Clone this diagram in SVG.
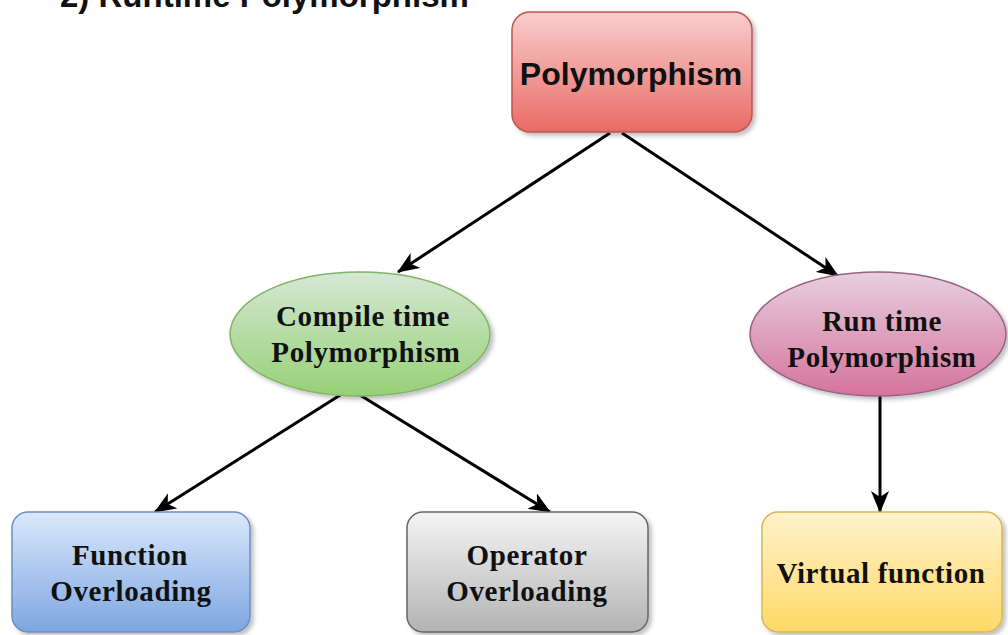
<svg xmlns="http://www.w3.org/2000/svg" width="1008" height="635" viewBox="0 0 1008 635">
<defs>
<linearGradient id="gRed" x1="0" y1="0" x2="0" y2="1"><stop offset="0" stop-color="#f8cecc"/><stop offset="1" stop-color="#ea6b66"/></linearGradient>
<linearGradient id="gGreen" x1="0" y1="0" x2="0" y2="1"><stop offset="0" stop-color="#d5e8d4"/><stop offset="1" stop-color="#97d077"/></linearGradient>
<linearGradient id="gPink" x1="0" y1="0" x2="0" y2="1"><stop offset="0" stop-color="#e6d0de"/><stop offset="1" stop-color="#d5739d"/></linearGradient>
<linearGradient id="gBlue" x1="0" y1="0" x2="0" y2="1"><stop offset="0" stop-color="#dae8fc"/><stop offset="1" stop-color="#7ea6e0"/></linearGradient>
<linearGradient id="gGray" x1="0" y1="0" x2="0" y2="1"><stop offset="0" stop-color="#f5f5f5"/><stop offset="1" stop-color="#b3b3b3"/></linearGradient>
<linearGradient id="gYellow" x1="0" y1="0" x2="0" y2="1"><stop offset="0" stop-color="#fff2cc"/><stop offset="1" stop-color="#ffd966"/></linearGradient>
<filter id="sh" x="-10%" y="-10%" width="130%" height="130%"><feDropShadow dx="3" dy="3" stdDeviation="2" flood-color="#000" flood-opacity="0.25"/></filter>
<marker id="arr" viewBox="0 0 22 18" refX="21" refY="9" markerWidth="22" markerHeight="18" markerUnits="userSpaceOnUse" orient="auto">
<path d="M0,0 L22,9 L0,18 L6,9 Z" fill="#000"/>
</marker>
</defs>
<style>
.serif{font-family:"Liberation Serif","Times New Roman",serif;font-weight:bold;font-size:29px;letter-spacing:0.6px;fill:#111;text-anchor:middle}
.sans{font-family:"Liberation Sans",Arial,sans-serif;font-weight:bold;fill:#111;text-anchor:middle}
.edge{stroke:#000;stroke-width:3;fill:none;marker-end:url(#arr)}
</style>
<rect width="1008" height="635" fill="#fff"/>
<text x="60" y="7" font-family="Liberation Sans, Arial, sans-serif" font-weight="bold" font-size="33" fill="#111">2) Runtime Polymorphism</text>
<g id="connectors">
<path class="edge" d="M610,133 L398,272"/>
<path class="edge" d="M622,133 L838,276"/>
<path class="edge" d="M345,392 L155,512"/>
<path class="edge" d="M355,392 L550,512"/>
<path class="edge" d="M880,395 L880,512"/>
</g>
<g id="polymorphism">
<rect x="512" y="12" width="240" height="120" rx="18" fill="url(#gRed)" stroke="#b85450" stroke-width="1.5" filter="url(#sh)"/>
<text class="sans" x="631" y="85" font-size="32">Polymorphism</text>
</g>
<g id="compile-time">
<ellipse cx="360" cy="334" rx="130" ry="62" fill="url(#gGreen)" stroke="#82b366" stroke-width="1.5" filter="url(#sh)"/>
<text class="serif" x="363" y="326">Compile time</text>
<text class="serif" x="366" y="362">Polymorphism</text>
</g>
<g id="run-time">
<ellipse cx="878" cy="334" rx="128" ry="62" fill="url(#gPink)" stroke="#996185" stroke-width="1.5" filter="url(#sh)"/>
<text class="serif" x="882" y="331">Run time</text>
<text class="serif" x="882" y="367">Polymorphism</text>
</g>
<g id="function-overloading">
<rect x="12" y="512" width="238" height="120" rx="16" fill="url(#gBlue)" stroke="#6c8ebf" stroke-width="1.5" filter="url(#sh)"/>
<text class="serif" x="130" y="565">Function</text>
<text class="serif" x="131" y="601">Overloading</text>
</g>
<g id="operator-overloading">
<rect x="407" y="512" width="241" height="120" rx="16" fill="url(#gGray)" stroke="#666666" stroke-width="1.5" filter="url(#sh)"/>
<text class="serif" x="527" y="565">Operator</text>
<text class="serif" x="527" y="601">Overloading</text>
</g>
<g id="virtual-function">
<rect x="762" y="512" width="240" height="120" rx="16" fill="url(#gYellow)" stroke="#d6b656" stroke-width="1.5" filter="url(#sh)"/>
<text class="serif" x="881" y="583">Virtual function</text>
</g>
</svg>
